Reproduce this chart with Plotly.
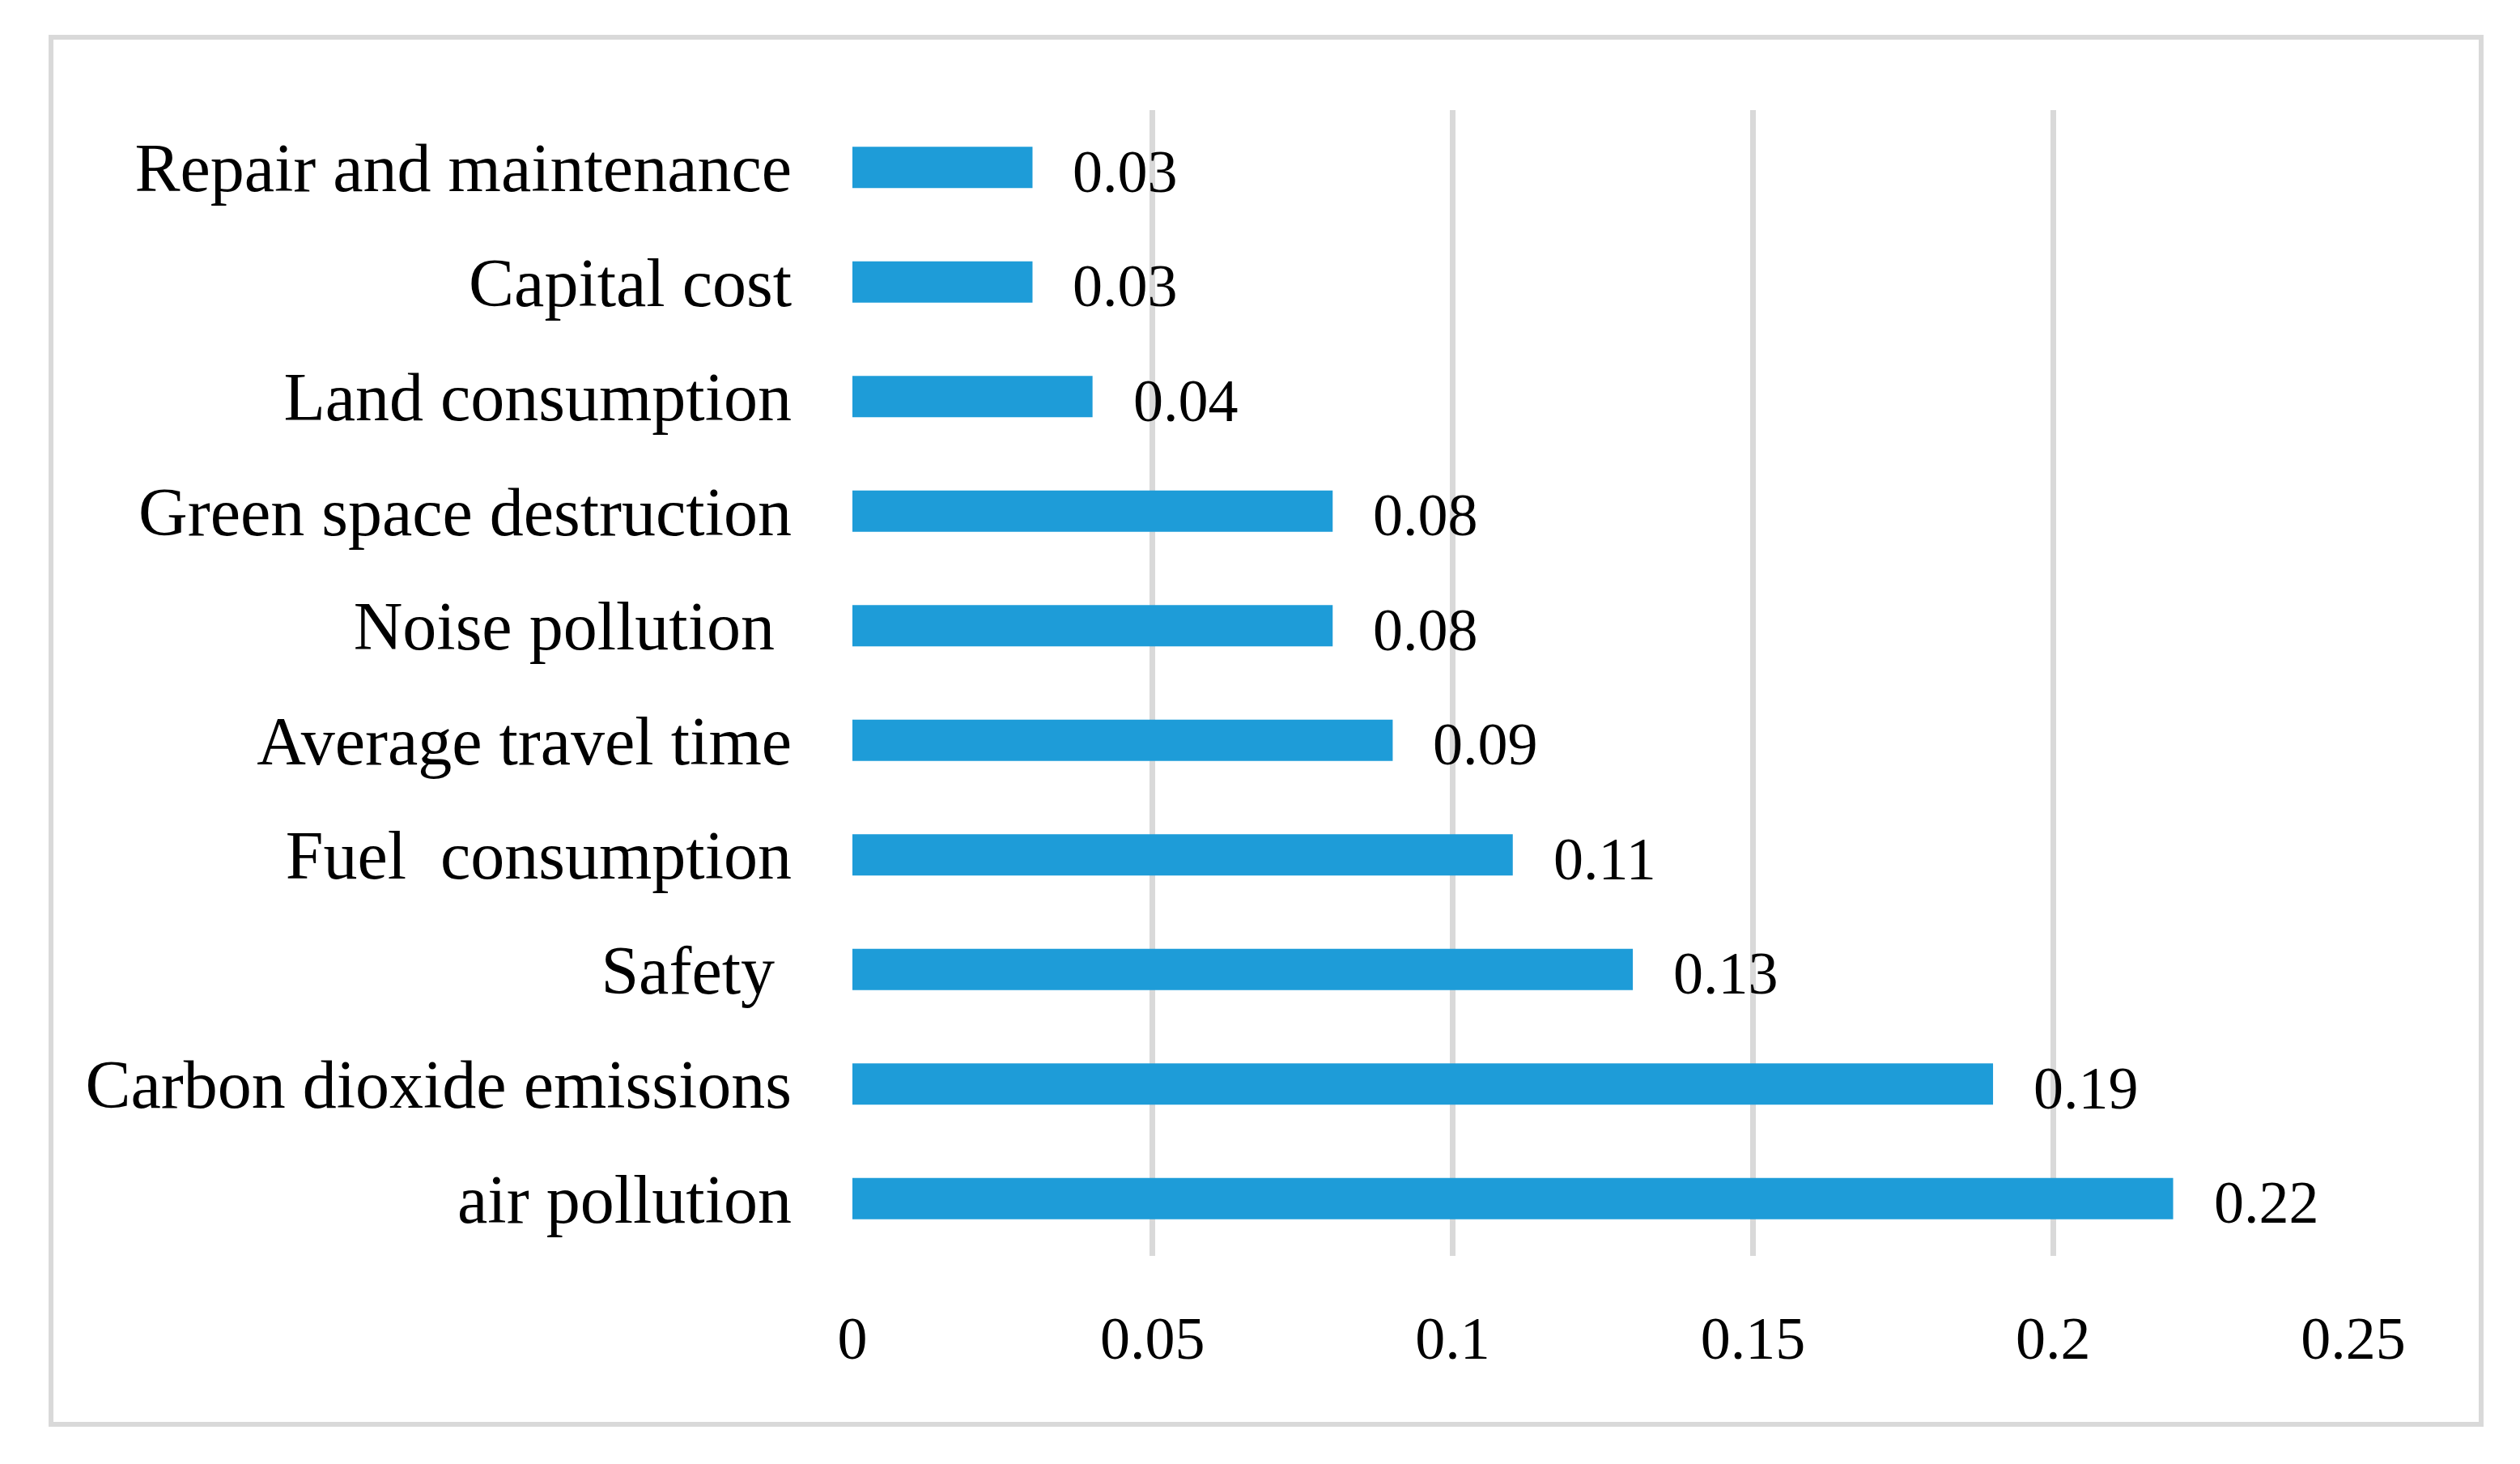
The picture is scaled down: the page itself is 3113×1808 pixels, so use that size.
import plotly.graph_objects as go

categories = [
    "Repair and maintenance",
    "Capital cost",
    "Land consumption",
    "Green space destruction",
    "Noise pollution\u00a0",
    "Average travel time",
    "Fuel\u00a0\u00a0consumption",
    "Safety\u00a0",
    "Carbon dioxide emissions",
    "air pollution",
]
values = [0.03, 0.03, 0.04, 0.08, 0.08, 0.09, 0.11, 0.13, 0.19, 0.22]
x_ticks = [0, 0.05, 0.1, 0.15, 0.2, 0.25]
x_tick_labels = ["0", "0.05", "0.1", "0.15", "0.2", "0.25"]

W, H = 3113, 1808
PX0, PX1, PY0, PY1 = 1045, 2899, 128, 1543
L, R, T, B = PX0, W - PX1, PY0, H - PY1
pw, ph = PX1 - PX0, PY1 - PY0

FONT = "Liberation Serif"
FS = 74
FS_CAT = 84
BAR = "#1E9CD8"
GRID = "#D9D9D9"

fig = go.Figure()
fig.add_trace(go.Bar(
    x=values, y=categories, orientation="h",
    marker=dict(color=BAR, line=dict(width=0)),
    width=0.36, hoverinfo="skip",
))

for v, c in zip(values, categories):
    fig.add_annotation(
        x=v, y=c, xref="x", yref="y", text=f"{v:.2f}", showarrow=False,
        xanchor="left", yanchor="middle", xshift=48, yshift=-5,
        font=dict(family=FONT, size=FS, color="black"),
    )

def px_x(p):
    return (p - PX0) / pw

def px_y(p):
    return (PY1 - p) / ph

fig.add_shape(type="rect", xref="paper", yref="paper",
              x0=px_x(55), x1=px_x(3057), y0=px_y(1751), y1=px_y(38),
              line=dict(color=GRID, width=6), fillcolor="rgba(0,0,0,0)", layer="below")

fig.update_layout(
    width=W, height=H,
    margin=dict(l=L, r=R, t=T, b=B),
    paper_bgcolor="white", plot_bgcolor="white",
    showlegend=False,
    font=dict(family=FONT, size=FS, color="black"),
)
fig.update_xaxes(
    range=[0, 0.25], tickvals=x_ticks, ticktext=x_tick_labels,
    showgrid=True, gridcolor=GRID, gridwidth=7,
    zeroline=False, showline=False, ticks="",
    tickfont=dict(family=FONT, size=FS, color="black"),
    ticklabelstandoff=52, fixedrange=True,
)
fig.update_yaxes(
    categoryorder="array", categoryarray=categories, autorange="reversed",
    showgrid=False, zeroline=False, showline=False, ticks="",
    tickfont=dict(family=FONT, size=FS_CAT, color="black"),
    ticklabelstandoff=74, fixedrange=True,
)

fig.write_html("out.html")
